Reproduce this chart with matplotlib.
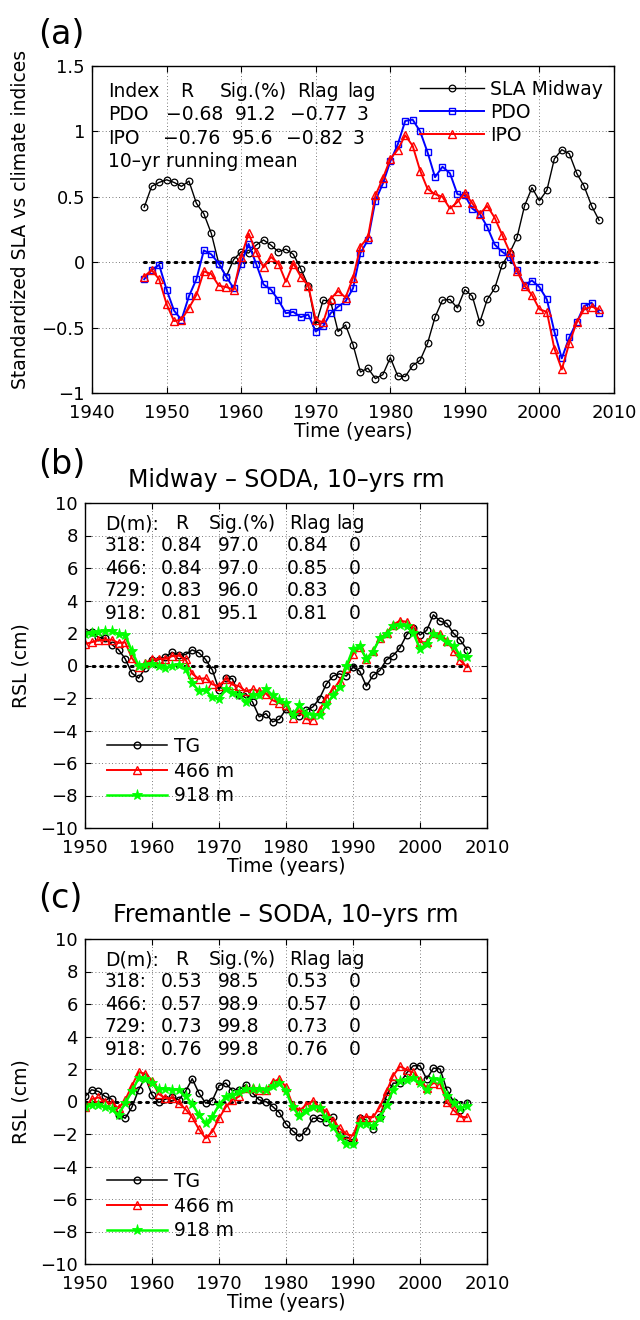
import matplotlib
matplotlib.use('Agg')
import matplotlib.pyplot as plt
import numpy as np

plt.rcParams['font.family'] = ['DejaVu Sans']
plt.rcParams['axes.unicode_minus'] = True

# ---------------- data: panel (a) ----------------
years_a = list(range(1947, 2009))
sla_midway = [0.42, 0.58, 0.61, 0.63, 0.61, 0.58, 0.62, 0.45, 0.37, 0.22,
              -0.01, -0.11, 0.02, 0.08, 0.07, 0.13, 0.17, 0.13, 0.08, 0.10,
              0.06, -0.05, -0.18, -0.48, -0.29, -0.30, -0.53, -0.48, -0.63, -0.84,
              -0.81, -0.89, -0.86, -0.73, -0.87, -0.875, -0.79, -0.75, -0.62, -0.42,
              -0.29, -0.285, -0.35, -0.21, -0.26, -0.46, -0.285, -0.20, -0.02, 0.07,
              0.19, 0.43, 0.57, 0.47, 0.55, 0.79, 0.86, 0.83, 0.68, 0.58,
              0.43, 0.32]
pdo = [-0.13, -0.06, -0.02, -0.21, -0.37, -0.44, -0.26, -0.13, 0.09, 0.06,
       -0.01, -0.11, -0.20, -0.01, 0.14, -0.01, -0.17, -0.21, -0.29, -0.39,
       -0.38, -0.42, -0.40, -0.53, -0.49, -0.39, -0.34, -0.30, -0.20, 0.07,
       0.17, 0.47, 0.60, 0.77, 0.90, 1.08, 1.09, 1.00, 0.84, 0.65,
       0.73, 0.68, 0.52, 0.51, 0.41, 0.37, 0.27, 0.135, 0.08, 0.04,
       -0.06, -0.175, -0.14, -0.19, -0.285, -0.53, -0.735, -0.575, -0.46, -0.335,
       -0.31, -0.39]
ipo = [-0.11, -0.06, -0.13, -0.32, -0.45, -0.44, -0.35, -0.25, -0.07, -0.09,
       -0.18, -0.19, -0.21, 0.04, 0.22, 0.08, -0.04, 0.04, -0.01, -0.15,
       -0.01, -0.11, -0.18, -0.44, -0.46, -0.28, -0.22, -0.27, -0.12, 0.12,
       0.19, 0.51, 0.64, 0.79, 0.86, 0.97, 0.89, 0.70, 0.56, 0.52,
       0.50, 0.41, 0.46, 0.53, 0.45, 0.37, 0.43, 0.34, 0.21, 0.08,
       -0.07, -0.18, -0.25, -0.36, -0.38, -0.66, -0.82, -0.62, -0.46, -0.36,
       -0.34, -0.36]
table_a_header = ['Index', 'R', 'Sig.(%)', 'Rlag', 'lag']
table_a_rows = [['PDO', '\u22120.68', '91.2', '\u22120.77', '3'],
                ['IPO', '\u22120.76', '95.6', '\u22120.82', '3']]
note_a = '10\u2013yr running mean'

# ---------------- data: panel (b) Midway ----------------
years_bc = list(range(1950, 2008))
tg_b = [2.08, 2.04, 1.73, 1.67, 1.29, 0.98, 0.41, -0.47, -0.78, -0.16,
        0.31, 0.35, 0.51, 0.82, 0.65, 0.67, 0.96, 0.78, 0.37, -0.27,
        -1.49, -0.78, -0.82, -1.84, -1.73, -2.24, -3.16, -2.96, -3.47, -3.31,
        -2.69, -3.0, -3.1, -2.76, -2.55, -2.04, -1.16, -0.65, -0.51, -0.65,
        -0.1, -0.35, -1.27, -0.61, -0.31, 0.35, 0.61, 1.08, 1.88, 2.33,
        1.88, 2.16, 3.12, 2.73, 2.59, 1.98, 1.57, 0.98]
m466_b = [1.33, 1.43, 1.57, 1.57, 1.59, 1.39, 1.43, 0.45, -0.1, 0.16,
          0.37, 0.41, 0.41, 0.57, 0.61, 0.37, -0.51, -0.82, -0.78, -1.16,
          -1.27, -0.82, -1.18, -1.27, -1.59, -1.47, -1.57, -1.73, -2.14, -2.31,
          -2.45, -3.2, -2.76, -3.31, -3.33, -2.76, -2.0, -1.47, -0.98, -0.16,
          0.71, 1.12, 0.41, 0.88, 1.67, 2.0, 2.51, 2.76, 2.69, 2.29,
          1.43, 1.43, 1.98, 1.94, 1.53, 0.92, 0.31, -0.1]
m918_b = [1.94, 2.0, 2.08, 2.12, 2.12, 1.94, 1.88, 0.88, 0.0, 0.04,
          0.1, 0.0, -0.14, 0.0, 0.06, -0.2, -1.08, -1.57, -1.53, -1.94,
          -2.08, -1.47, -1.67, -1.8, -2.24, -1.84, -1.8, -1.43, -1.84, -2.14,
          -2.29, -3.06, -2.45, -2.96, -3.02, -3.06, -2.45, -1.84, -1.33, -0.06,
          1.02, 1.18, 0.41, 0.86, 1.67, 1.94, 2.41, 2.49, 2.41, 2.0,
          1.02, 1.33, 1.94, 1.78, 1.43, 1.22, 0.61, 0.51]
table_b_rows = [['318:', '0.84', '97.0', '0.84', '0'],
                ['466:', '0.84', '97.0', '0.85', '0'],
                ['729:', '0.83', '96.0', '0.83', '0'],
                ['918:', '0.81', '95.1', '0.81', '0']]

# ---------------- data: panel (c) Fremantle ----------------
tg_c = [0.31, 0.72, 0.62, 0.31, 0.14, -0.82, -1.03, -0.35, 0.72, 1.48,
        0.41, -0.06, 0.14, 0.27, 0.10, 0.62, 1.40, 0.52, -0.1, 0.06,
        0.97, 1.13, 0.66, 0.72, 1.03, 0.52, 0.1, 0.0, -0.31, -0.68,
        -1.38, -1.81, -2.16, -1.81, -1.03, -1.03, -1.24, -0.97, -2.06, -2.37,
        -2.5, -1.03, -1.13, -1.71, -0.93, 0.35, 1.13, 1.13, 1.75, 2.2,
        2.2, 1.38, 2.06, 2.0, 0.72, 0.0, -0.52, -0.1]
m466_c = [-0.35, 0.14, 0.25, 0.0, -0.1, -0.41, 0.10, 0.97, 1.81, 1.71,
          1.28, 0.45, 0.21, 0.21, -0.1, -0.47, -0.97, -1.71, -2.27, -1.86,
          -1.03, -0.35, 0.10, 0.31, 0.82, 0.82, 0.72, 0.72, 1.20, 1.38,
          0.89, -0.21, -0.56, -0.21, 0.04, -0.35, -0.62, -1.18, -1.65, -2.02,
          -2.1, -1.03, -0.93, -0.97, -0.35, 0.62, 1.59, 2.16, 1.96, 1.79,
          1.34, 0.82, 1.13, 1.09, -0.04, -0.52, -0.93, -0.97]
m918_c = [-0.35, -0.21, -0.21, -0.35, -0.47, -0.82, -0.1, 0.62, 1.44, 1.40,
          1.13, 0.78, 0.76, 0.72, 0.72, 0.31, -0.14, -0.82, -1.34, -0.93,
          -0.21, 0.27, 0.41, 0.56, 0.76, 0.78, 0.76, 0.72, 0.93, 1.13,
          0.62, -0.35, -0.89, -0.56, -0.31, -0.41, -1.03, -1.55, -2.16, -2.62,
          -2.64, -1.38, -1.38, -1.5, -1.03, -0.21, 0.72, 1.24, 1.3, 1.44,
          1.13, 0.68, 1.38, 1.34, 0.31, -0.1, -0.41, -0.27]
table_c_rows = [['318:', '0.53', '98.5', '0.53', '0'],
                ['466:', '0.57', '98.9', '0.57', '0'],
                ['729:', '0.73', '99.8', '0.73', '0'],
                ['918:', '0.76', '99.8', '0.76', '0']]
table_bc_header = ['D(m):', 'R', 'Sig.(%)', 'Rlag', 'lag']

xticks_a = [1940, 1950, 1960, 1970, 1980, 1990, 2000, 2010]
yticks_a = [-1, -0.5, 0, 0.5, 1, 1.5]
xticks_bc = [1950, 1960, 1970, 1980, 1990, 2000, 2010]
yticks_bc = list(range(-10, 11, 2))

# ---------------- figure ----------------
W, H = 640, 1320
fig = plt.figure(figsize=(W / 100, H / 100), dpi=100)
FT = 13      # tick labels
FS = 13.5    # labels, legend, table text
FTIT = 17    # panel titles
FLET = 24    # panel letters


def px_axes(l, t, r, b):
    return fig.add_axes([l / W, 1 - b / H, (r - l) / W, (b - t) / H])


def fmt(v):
    return ('%g' % v).replace('-', '\u2212')


def style(ax, xt, yt):
    ax.set_xticks(xt)
    ax.set_yticks(yt)
    ax.set_xticklabels([str(v) for v in xt])
    ax.set_yticklabels([fmt(v) for v in yt])
    ax.tick_params(direction='in', length=4, width=0.8, top=True, right=True,
                   labelsize=FT, colors='black')
    ax.tick_params(axis='x', pad=8)
    ax.tick_params(axis='y', pad=5)
    ax.grid(True, linestyle=(0, (1, 3)), color='0.3', linewidth=0.6)
    for s in ax.spines.values():
        s.set_linewidth(1.0)


def txt(x, y, s, **kw):
    fig.text(x / W, 1 - y / H, s, fontsize=FS, va='baseline', ha='left', **kw)


zero_ls = (0, (0.6, 1.9))

# ---- panel (a)
ax1 = px_axes(92, 66, 614, 393)
ax1.plot([years_a[0], years_a[-1]], [0, 0], color='black', linestyle=zero_ls,
         linewidth=2.2, dash_capstyle='round')
ax1.plot(years_a, sla_midway, color='black', marker='o', markersize=4.8,
         markerfacecolor='none', markeredgewidth=0.9, linewidth=1.0,
         label='SLA Midway')
ax1.plot(years_a, pdo, color='blue', marker='s', markersize=4.5,
         markerfacecolor='none', markeredgewidth=1.0, linewidth=1.4, label='PDO')
ax1.plot(years_a, ipo, color='red', marker='^', markersize=5.5,
         markerfacecolor='none', markeredgewidth=1.0, linewidth=1.4, label='IPO')
ax1.set_xlim(1940, 2010)
ax1.set_ylim(-1, 1.5)
style(ax1, xticks_a, yticks_a)
ax1.set_xlabel('Time (years)', fontsize=FS, labelpad=0)
ax1.set_ylabel('Standardized SLA vs climate indices', fontsize=FS, labelpad=5)
ax1.yaxis.set_label_coords(-0.118, 0.53)
ax1.legend(loc='upper left', bbox_to_anchor=((420 - 92) / 522, 0.958),
           frameon=False, fontsize=FS, handlelength=3.4, handletextpad=0.35,
           labelspacing=0.22, borderpad=0, borderaxespad=0, numpoints=1)

cols_a_head = [108, 180, 220, 297, 347]
cols_a_rows = [[108, 166, 235, 290, 357], [108, 163, 232, 286, 353]]
for s, x in zip(table_a_header, cols_a_head):
    txt(x, 97, s)
for r, (row, cx) in enumerate(zip(table_a_rows, cols_a_rows)):
    for s, x in zip(row, cx):
        txt(x, 120 + 23.5 * r, s)
txt(108, 167, note_a)
fig.text(38 / W, 1 - 44 / H, '(a)', fontsize=FLET, ha='left', va='baseline')


# ---- panels (b), (c)
def panel_bc(top, bottom, tg, m466, m918, rows, title, label, label_y,
             title_y, base0, leg_y):
    ax = px_axes(85, top, 487, bottom)
    ax.plot([years_bc[0], years_bc[-1]], [0, 0], color='black',
            linestyle=zero_ls, linewidth=2.2, dash_capstyle='round')
    ax.plot(years_bc, tg, color='black', marker='o', markersize=4.8,
            markerfacecolor='none', markeredgewidth=1.0, linewidth=1.1,
            label='TG')
    ax.plot(years_bc, m466, color='red', marker='^', markersize=5.5,
            markerfacecolor='none', markeredgewidth=1.0, linewidth=1.4,
            label='466 m')
    ax.plot(years_bc, m918, color='#00ff00', marker='*', markersize=8,
            markeredgewidth=0.6, linewidth=1.8, label='918 m')
    ax.set_xlim(1950, 2010)
    ax.set_ylim(-10, 10)
    style(ax, xticks_bc, yticks_bc)
    ax.set_xlabel('Time (years)', fontsize=FS, labelpad=0)
    ax.set_ylabel('RSL (cm)', fontsize=FS, labelpad=7)
    ax.legend(loc='upper left', bbox_to_anchor=((107 - 85) / 402, leg_y),
              frameon=False, fontsize=FS, handlelength=3.2, handletextpad=0.35,
              labelspacing=0.3, borderpad=0, borderaxespad=0, numpoints=1)
    fig.text(286 / W, 1 - title_y / H, title, fontsize=FTIT, ha='center',
             va='baseline')
    fig.text(38 / W, 1 - label_y / H, label, fontsize=FLET, ha='left',
             va='baseline')
    hx = [105, 175, 209, 289, 336]
    vx = [105, 161, 218, 287, 349]
    for s, x in zip(table_bc_header, hx):
        txt(x, base0, s)
    for r, row in enumerate(rows):
        for s, x in zip(row, vx):
            txt(x, base0 + 22.4 * (r + 1), s)
    return ax


ax2 = panel_bc(503, 828, tg_b, m466_b, m918_b, table_b_rows,
               'Midway \u2013 SODA, 10\u2013yrs rm', '(b)', 474, 487, 529, 0.28)
ax3 = panel_bc(939, 1264, tg_c, m466_c, m918_c, table_c_rows,
               'Fremantle \u2013 SODA, 10\u2013yrs rm', '(c)', 908, 922, 965,
               0.283)

fig.savefig('out.png', dpi=100)
